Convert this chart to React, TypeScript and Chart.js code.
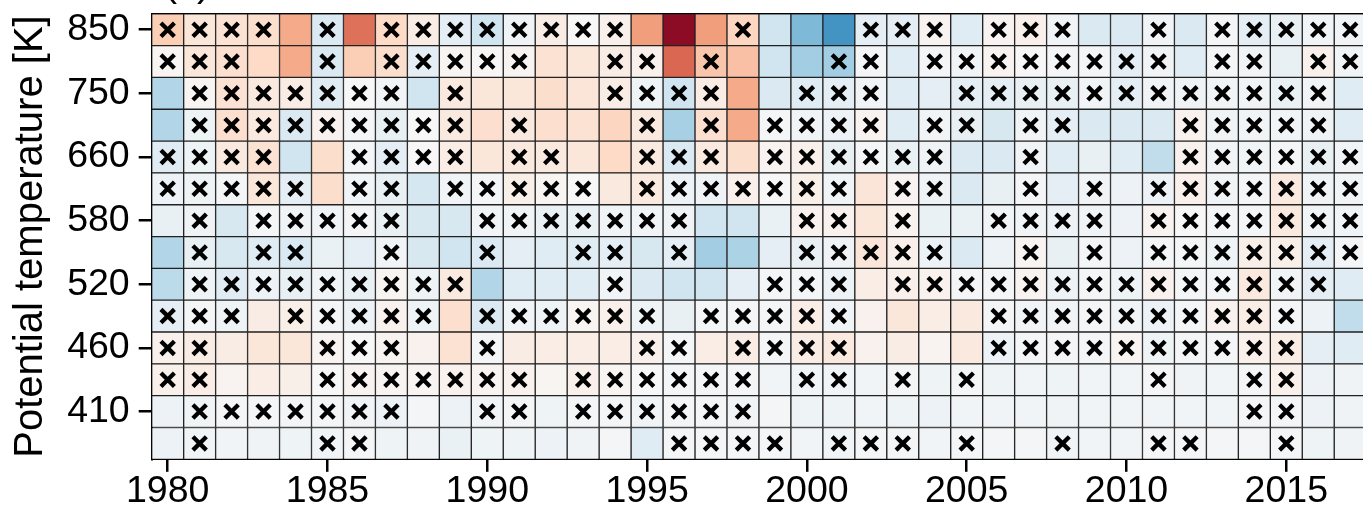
import { useEffect, useRef } from 'react';
import { Chart, registerables } from 'chart.js';

Chart.register(...registerables);

// ---- categories ----
const years = [
  1980, 1981, 1982, 1983, 1984, 1985, 1986, 1987, 1988, 1989,
  1990, 1991, 1992, 1993, 1994, 1995, 1996, 1997, 1998, 1999,
  2000, 2001, 2002, 2003, 2004, 2005, 2006, 2007, 2008, 2009,
  2010, 2011, 2012, 2013, 2014, 2015, 2016, 2017,
];
const xTickLabels = [1980, 1985, 1990, 1995, 2000, 2005, 2010, 2015];
// y tick labels shown on every other level row (row index from top)
const yTickLabels = ['850', '750', '660', '580', '520', '460', '410'];
const yTickRows = [0, 2, 4, 6, 8, 10, 12];
const yAxisTitle = 'Potential temperature [K]';
const panelLabel = '(c)';

// ---- anomaly values per level row (top row = 850 K) ----
const row01 = [0.25, 0.12, 0.15, 0.18, 0.38, -0.15, 0.55, 0.2, 0.08, -0.1, -0.2, -0.04, 0.08, 0.0, 0.05, 0.42, 0.9, 0.42, 0.22, -0.2, -0.45, -0.6, -0.1, -0.1, 0.03, -0.12, 0.03, 0.05, -0.03, -0.15, -0.15, -0.03, -0.15, -0.02, -0.1, -0.08, -0.03, -0.03];
const row02 = [0.02, 0.12, 0.17, 0.2, 0.38, -0.15, 0.25, 0.18, -0.1, 0.02, 0.01, 0.03, 0.15, 0.12, 0.08, 0.05, 0.58, 0.28, 0.3, -0.2, -0.35, -0.35, -0.02, -0.12, -0.02, -0.03, 0.03, 0.0, -0.02, -0.02, -0.1, -0.03, -0.12, -0.02, -0.03, -0.08, 0.05, -0.03];
const row03 = [-0.3, 0.02, 0.15, 0.1, 0.08, -0.12, 0.0, -0.03, -0.2, 0.1, 0.12, 0.12, 0.18, 0.13, 0.08, -0.05, -0.2, 0.08, 0.38, -0.15, -0.12, -0.1, -0.03, -0.12, -0.1, -0.1, -0.1, -0.08, -0.08, -0.03, -0.1, -0.03, -0.04, -0.03, -0.03, -0.07, -0.03, -0.12];
const row04 = [-0.3, -0.05, 0.17, 0.1, -0.15, 0.04, -0.02, -0.08, 0.0, 0.1, 0.17, 0.1, 0.17, 0.15, 0.22, 0.1, -0.33, 0.17, 0.38, -0.02, -0.03, -0.06, 0.03, -0.12, -0.03, -0.08, -0.17, -0.03, -0.1, -0.15, -0.15, -0.15, 0.04, -0.04, -0.03, -0.03, -0.04, -0.12];
const row05 = [-0.12, -0.05, 0.1, 0.15, -0.2, 0.18, -0.02, -0.1, 0.0, 0.07, 0.12, 0.1, 0.1, 0.12, 0.2, 0.1, -0.15, 0.1, 0.18, 0.03, 0.05, -0.08, -0.02, -0.07, -0.04, -0.15, -0.15, -0.03, -0.12, -0.08, -0.12, -0.25, 0.04, -0.03, -0.03, -0.02, -0.08, -0.03];
const row06 = [-0.06, -0.05, -0.02, 0.12, -0.1, 0.18, -0.03, -0.08, -0.18, -0.03, -0.02, 0.06, 0.02, 0.0, 0.1, 0.1, -0.06, -0.04, 0.05, 0.0, 0.06, -0.03, 0.13, 0.03, -0.04, -0.15, -0.08, -0.02, -0.1, -0.03, -0.06, -0.06, 0.05, -0.03, -0.02, 0.1, -0.04, -0.03];
const row07 = [-0.08, -0.04, -0.17, -0.02, -0.03, -0.03, -0.02, -0.08, -0.17, -0.17, -0.03, -0.03, -0.07, -0.07, -0.03, -0.03, -0.04, -0.2, -0.2, -0.07, 0.04, 0.04, 0.12, 0.03, -0.07, -0.07, -0.03, -0.03, -0.06, -0.03, -0.06, 0.03, 0.0, -0.02, -0.02, 0.1, -0.03, -0.03];
const row08 = [-0.3, -0.08, -0.17, -0.12, -0.15, -0.07, -0.1, -0.03, -0.17, -0.2, -0.15, -0.1, -0.12, -0.12, -0.1, -0.17, -0.1, -0.35, -0.32, -0.1, -0.08, -0.04, 0.13, 0.05, -0.06, -0.15, -0.06, 0.02, -0.08, -0.02, -0.06, -0.02, -0.02, -0.05, 0.06, 0.06, -0.1, -0.02];
const row09 = [-0.27, -0.05, -0.12, -0.06, -0.08, -0.03, -0.07, 0.02, -0.05, 0.1, -0.3, -0.12, -0.12, -0.12, -0.03, -0.15, -0.2, -0.2, -0.1, -0.02, -0.02, -0.06, 0.07, 0.05, 0.04, -0.02, -0.02, 0.03, -0.06, -0.02, -0.05, 0.04, -0.02, -0.02, 0.1, -0.03, -0.1, -0.12];
const row10 = [-0.1, -0.02, -0.05, 0.08, 0.06, -0.02, -0.06, 0.04, -0.05, 0.17, -0.15, -0.03, -0.05, 0.02, 0.05, -0.05, -0.08, -0.02, -0.02, -0.02, 0.07, -0.03, 0.04, 0.12, 0.07, 0.1, -0.02, -0.03, -0.03, -0.02, -0.03, -0.06, -0.02, 0.04, 0.07, -0.02, -0.06, -0.25];
const row11 = [0.05, 0.08, 0.08, 0.12, 0.12, 0.03, 0.0, 0.03, 0.04, 0.15, -0.02, 0.08, 0.07, 0.07, 0.07, 0.05, -0.02, 0.07, 0.08, -0.02, 0.08, 0.1, 0.04, 0.08, 0.03, 0.1, -0.06, -0.02, -0.02, -0.02, 0.02, -0.05, -0.02, -0.02, 0.05, 0.07, -0.1, -0.12];
const row12 = [0.05, 0.07, 0.03, 0.07, 0.06, 0.0, 0.03, 0.02, 0.02, 0.04, 0.03, 0.04, 0.02, 0.05, 0.02, 0.0, -0.02, -0.02, -0.02, -0.03, -0.03, -0.03, -0.03, -0.02, -0.05, -0.02, -0.05, -0.03, -0.05, -0.03, -0.03, -0.02, -0.04, -0.03, -0.02, 0.05, -0.06, -0.04];
const row13 = [-0.06, -0.03, -0.02, -0.02, -0.02, -0.02, -0.03, -0.06, -0.02, -0.06, -0.03, -0.02, -0.05, -0.02, -0.02, -0.03, -0.02, -0.02, -0.03, -0.02, -0.05, -0.05, -0.03, -0.05, -0.06, -0.03, -0.03, -0.03, -0.04, -0.03, -0.03, -0.03, -0.03, -0.03, -0.02, -0.02, -0.06, -0.04];
const row14 = [-0.06, -0.03, -0.03, -0.04, -0.05, -0.03, -0.02, -0.05, -0.04, -0.07, -0.05, -0.05, -0.06, -0.04, -0.02, -0.12, -0.02, -0.02, -0.02, -0.02, -0.03, -0.03, -0.02, -0.02, -0.03, -0.02, -0.02, -0.02, -0.03, -0.03, -0.03, -0.02, -0.02, -0.02, -0.02, -0.02, -0.05, -0.04];

// ---- significance flags per row ('x' = marked), decades separated by spaces ----
const sig01 = 'xxxx.x.xxx xxxxx...x. ..xxx.xxx. .x.xxxxx';
const sig02 = 'xxx..x.xxx xx..xx.x.. .xx.xxxxxx xx.xx.xx';
const sig03 = '.xxxxxxx.x ....xxxx.. xxx..xxxxx xxxxxxx.';
const sig04 = '.xxxxxxxxx .x...x.x.x xxx.xx.xx. ..xxxxx.';
const sig05 = 'xxxx..xxxx .xx..xxx.x xxxxx..x.. ..xxxxxx';
const sig06 = 'xxxxx.xx.x xxxx.xxxxx xx.xx..x.x .xxxxxxx';
const sig07 = '.x.xxxxx.. xxxxxxx... xx.x..xxxx .xxxxxxx';
const sig08 = '.x.xx..x.. x..xx.x... xxxxx..x.x .xxxxxxx';
const sig09 = '.xxxxxxxxx ....x....x xx.xxxxxxx xxxxxxx.';
const sig10 = 'xxx.xxxxx. xxxxxx.xxx xx....xxxx xxxxxx..';
const sig11 = 'xx...xxx.. x....xx.xx xx....xxxx xxxxxx..';
const sig12 = 'xx...xxxxx xx.xxxxxx. xx.x.x.... .x..xx..';
const sig13 = '.xxxxxxx.. xx.xxxxxx. .......... ....xx..';
const sig14 = '.x...xx... ......xxxx .xxx.x..x. .xx..x..';

const rows = [row01, row02, row03, row04, row05, row06, row07, row08, row09, row10, row11, row12, row13, row14];
const sigs = [sig01, sig02, sig03, sig04, sig05, sig06, sig07, sig08, sig09, sig10, sig11, sig12, sig13, sig14];

// RdBu_r colormap
const RDBU_R = ['#053061', '#2166ac', '#4393c3', '#92c5de', '#d1e5f0', '#f7f7f7', '#fddbc7', '#f4a582', '#d6604d', '#b2182b', '#67001f'];
const VMIN = -1;
const VMAX = 1;

function hexToRgb(h: string): number[] {
  return [parseInt(h.slice(1, 3), 16), parseInt(h.slice(3, 5), 16), parseInt(h.slice(5, 7), 16)];
}
function colorFor(v: number): string {
  const n = RDBU_R.length - 1;
  const t = Math.max(0, Math.min(1, (v - VMIN) / (VMAX - VMIN))) * n;
  const i = Math.min(n - 1, Math.floor(t));
  const f = t - i;
  const a = hexToRgb(RDBU_R[i]);
  const b = hexToRgb(RDBU_R[i + 1]);
  const c = a.map((av, k) => Math.round(av + (b[k] - av) * f));
  return `rgb(${c[0]},${c[1]},${c[2]})`;
}

const FONT = 'Liberation Sans';

export default function App() {
  const ref = useRef<HTMLCanvasElement>(null);

  useEffect(() => {
    const cells: { x: number; y: [number, number] }[] = [];
    const colors: string[] = [];
    const marks: { x: number; y: number }[] = [];
    rows.forEach((vals, r) => {
      const flags = sigs[r].replace(/ /g, '');
      vals.forEach((v, c) => {
        cells.push({ x: years[c], y: [r - 0.5, r + 0.5] });
        colors.push(colorFor(v));
        if (flags[c] === 'x') marks.push({ x: years[c], y: r });
      });
    });

    const xMin = years[0] - 0.5;
    const xMax = years[years.length - 1] + 0.5;

    const panelPlugin = {
      id: 'panelLabel',
      afterDraw(chart: any) {
        const ctx = chart.ctx;
        ctx.save();
        ctx.font = `40px "${FONT}"`;
        ctx.fillStyle = '#000';
        ctx.textBaseline = 'alphabetic';
        ctx.textAlign = 'left';
        ctx.fillText(panelLabel, chart.chartArea.left + 12, -4);
        ctx.restore();
      },
    };

    const chart = new Chart(ref.current as HTMLCanvasElement, {
      type: 'bar',
      data: {
        datasets: [
          {
            type: 'scatter',
            data: marks,
            xAxisID: 'x',
            yAxisID: 'y',
            pointStyle: 'crossRot',
            pointRadius: 9.5,
            pointBorderWidth: 4.3,
            pointBorderColor: '#000',
            pointBackgroundColor: '#000',
            order: 0,
          } as any,
          {
            type: 'bar',
            data: cells as any,
            xAxisID: 'x',
            yAxisID: 'y',
            backgroundColor: colors,
            borderColor: '#222222',
            borderWidth: 1,
            borderSkipped: false,
            barPercentage: 1,
            categoryPercentage: 1,
            grouped: false,
            order: 1,
          } as any,
        ],
      },
      options: {
        animation: false,
        responsive: false,
        maintainAspectRatio: false,
        devicePixelRatio: 1,
        events: [],
        layout: { padding: { top: 11.3, right: 13, left: 0, bottom: 0 } },
        plugins: {
          legend: { display: false },
          tooltip: { enabled: false },
          title: { display: false },
        },
        scales: {
          x: {
            type: 'linear',
            position: 'bottom',
            min: xMin,
            max: xMax,
            offset: false,
            afterBuildTicks: (s: any) => {
              s.ticks = xTickLabels.map((v) => ({ value: v }));
            },
            afterFit: (s: any) => {
              s.height = 50.7;
              s.paddingLeft = 0;
              s.paddingRight = 0;
            },
            ticks: {
              autoSkip: false,
              maxRotation: 0,
              minRotation: 0,
              padding: 1.5,
              color: '#000',
              font: { family: FONT, size: 37.5, lineHeight: 1 },
              callback: (_v: any, i: number) => String(xTickLabels[i]),
            },
            grid: {
              drawOnChartArea: false,
              drawTicks: true,
              tickLength: 12.5,
              tickWidth: 2.5,
              tickColor: '#000',
              lineWidth: 2.5,
              offset: false,
            },
            border: { display: true, color: '#000', width: 2 },
          },
          xTop: {
            type: 'linear',
            position: 'top',
            min: xMin,
            max: xMax,
            afterFit: (s: any) => {
              s.height = 0;
              s.paddingLeft = 0;
              s.paddingRight = 0;
            },
            ticks: { display: false },
            grid: { display: false, drawTicks: false },
            border: { display: true, color: '#000', width: 2 },
          },
          y: {
            type: 'linear',
            position: 'left',
            reverse: true,
            min: -0.5,
            max: rows.length - 0.5,
            afterBuildTicks: (s: any) => {
              s.ticks = yTickRows.map((v) => ({ value: v }));
            },
            afterFit: (s: any) => {
              s.width = 151.7;
              s.paddingTop = 0;
              s.paddingBottom = 0;
            },
            ticks: {
              autoSkip: false,
              padding: 9,
              color: '#000',
              font: { family: FONT, size: 37.5, lineHeight: 1 },
              callback: (_v: any, i: number) => yTickLabels[i],
            },
            grid: {
              drawOnChartArea: false,
              drawTicks: true,
              tickLength: 13,
              tickWidth: 2.5,
              tickColor: '#000',
              lineWidth: 2.5,
              offset: false,
            },
            border: { display: true, color: '#000', width: 2 },
            title: {
              display: true,
              text: yAxisTitle,
              color: '#000',
              font: { family: FONT, size: 40 },
              padding: { top: 7, bottom: 0 },
            },
          },
        },
      } as any,
      plugins: [panelPlugin],
    });

    return () => chart.destroy();
  }, []);

  return (
    <div
      style={{
        position: 'fixed',
        left: 0,
        top: 0,
        width: 1363,
        height: 510,
        overflow: 'hidden',
        background: '#fff',
      }}
    >
      <canvas
        ref={ref}
        width={1380}
        height={510}
        style={{ position: 'absolute', left: 0, top: 0, width: 1380, height: 510 }}
      />
    </div>
  );
}
